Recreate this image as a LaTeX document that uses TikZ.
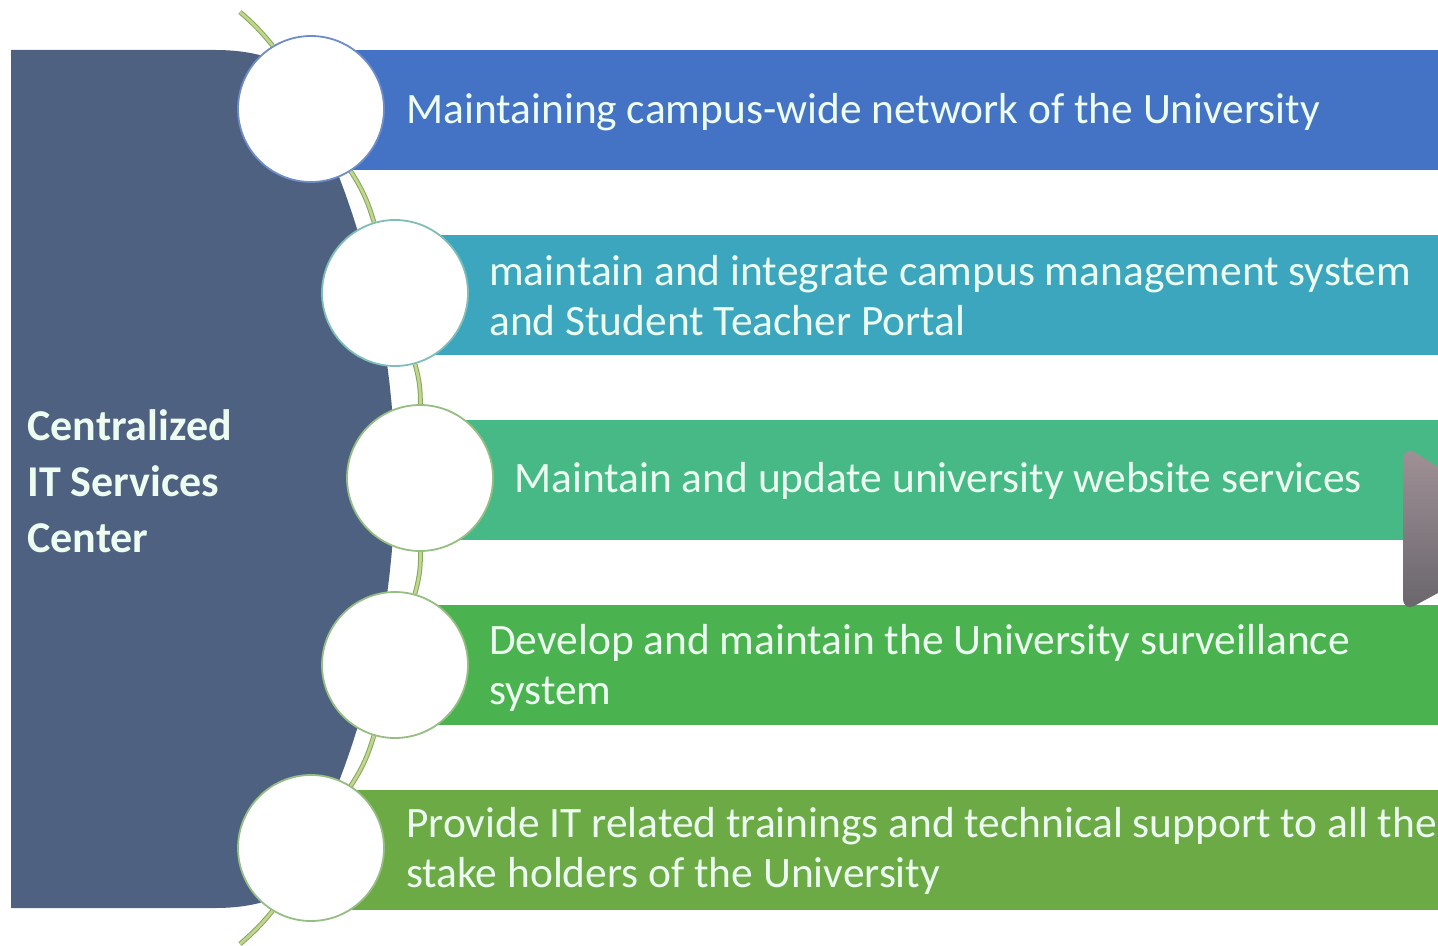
\documentclass[tikz,border=0pt]{standalone}
\usepackage{fontspec}
\setmainfont{Carlito}
\usetikzlibrary{positioning}

\definecolor{panelc}{RGB}{79,97,128}
\definecolor{barA}{RGB}{68,114,196}
\definecolor{barB}{RGB}{60,166,190}
\definecolor{barC}{RGB}{70,185,135}
\definecolor{barD}{RGB}{75,178,80}
\definecolor{barE}{RGB}{108,170,70}
\definecolor{textc}{RGB}{236,252,240}
\definecolor{linkc}{RGB}{135,165,95}
\definecolor{linkd}{RGB}{190,215,140}
\definecolor{ringA}{RGB}{110,140,200}
\definecolor{ringB}{RGB}{125,190,185}
\definecolor{ringC}{RGB}{150,190,130}
\definecolor{greyA}{RGB}{160,145,150}
\definecolor{greyB}{RGB}{105,102,108}

\begin{document}
\begin{tikzpicture}[x=0.5pt,y=-0.5pt,
  dot/.style={circle, fill=white, draw=#1, line width=0.9pt, minimum size=73pt, inner sep=0pt},
  label/.style={text=textc, font=\fontsize{21.7}{25}\selectfont, align=left, inner sep=0pt, yshift=-1.5pt},
  link/.style={draw=linkc, double=linkd, line width=0.5pt, double distance=1.4pt}]
  \useasboundingbox (0,0) rectangle (1438,946);
  \clip (0,0) rectangle (1438,946);
  % left panel
  \fill[panelc] (11,50) -- (215,50) .. controls (248,50) and (282,57) .. (292,75)
    -- plot[domain=-28.56:28.56, samples=40] ({-450+845*cos(\x)},{479+845*sin(\x)})
    .. controls (282,901) and (248,908) .. (215,908) -- (11,908) -- cycle;
  \node[text=textc, font=\fontsize{22}{28}\selectfont\bfseries, align=left, inner sep=0pt, anchor=west]
    (ctr) at (27,481) {Centralized\\IT Services\\Center};
  % bars
  \fill[barA] (311,50) rectangle (1438,170);
  \fill[barB] (395,235) rectangle (1438,355);
  \fill[barC] (420,420) rectangle (1438,540);
  \fill[barD] (395,605) rectangle (1438,725);
  \fill[barE] (311,790) rectangle (1438,910);
  % grey piece at the right edge
  \shade[top color=greyA, bottom color=greyB]
    (1403,462) .. controls (1403,452) and (1408,448) .. (1414,452) -- (1438,467)
    -- (1438,593) -- (1414,606) .. controls (1408,609) and (1403,606) .. (1403,598) -- cycle;
  % circles
  \node (c1) [dot=ringA] at (311,109) {};
  \node (c2) [dot=ringB] at (395,293) {};
  \node (c3) [dot=ringC] at (420,478) {};
  \node (c4) [dot=ringC] at (395,665) {};
  \node (c5) [dot=ringC] at (311,848) {};
  \coordinate (top) at (240,12);
  \coordinate (bot) at (240,944);
  \path (top) edge[link, bend left=5] (c1)
        (c1) edge[link, bend left=8] (c2)
        (c2) edge[link, bend left=8] (c3)
        (c3) edge[link, bend left=8] (c4)
        (c4) edge[link, bend left=8] (c5)
        (c5) edge[link, bend left=5] (bot);
  % texts
  \node (t1) [label, right=10.5pt of c1] {Maintaining campus-wide network of the University};
  \node (t2) [label, right=10pt of c2] {maintain and integrate campus management system\\and Student Teacher Portal};
  \node (t3) [label, right=10pt of c3] {Maintain and update university website services};
  \node (t4) [label, right=10pt of c4] {Develop and maintain the University surveillance\\system};
  \node (t5) [label, right=10.5pt of c5] {Provide IT related trainings and technical support to all the\\stake holders of the University};
\end{tikzpicture}
\end{document}
